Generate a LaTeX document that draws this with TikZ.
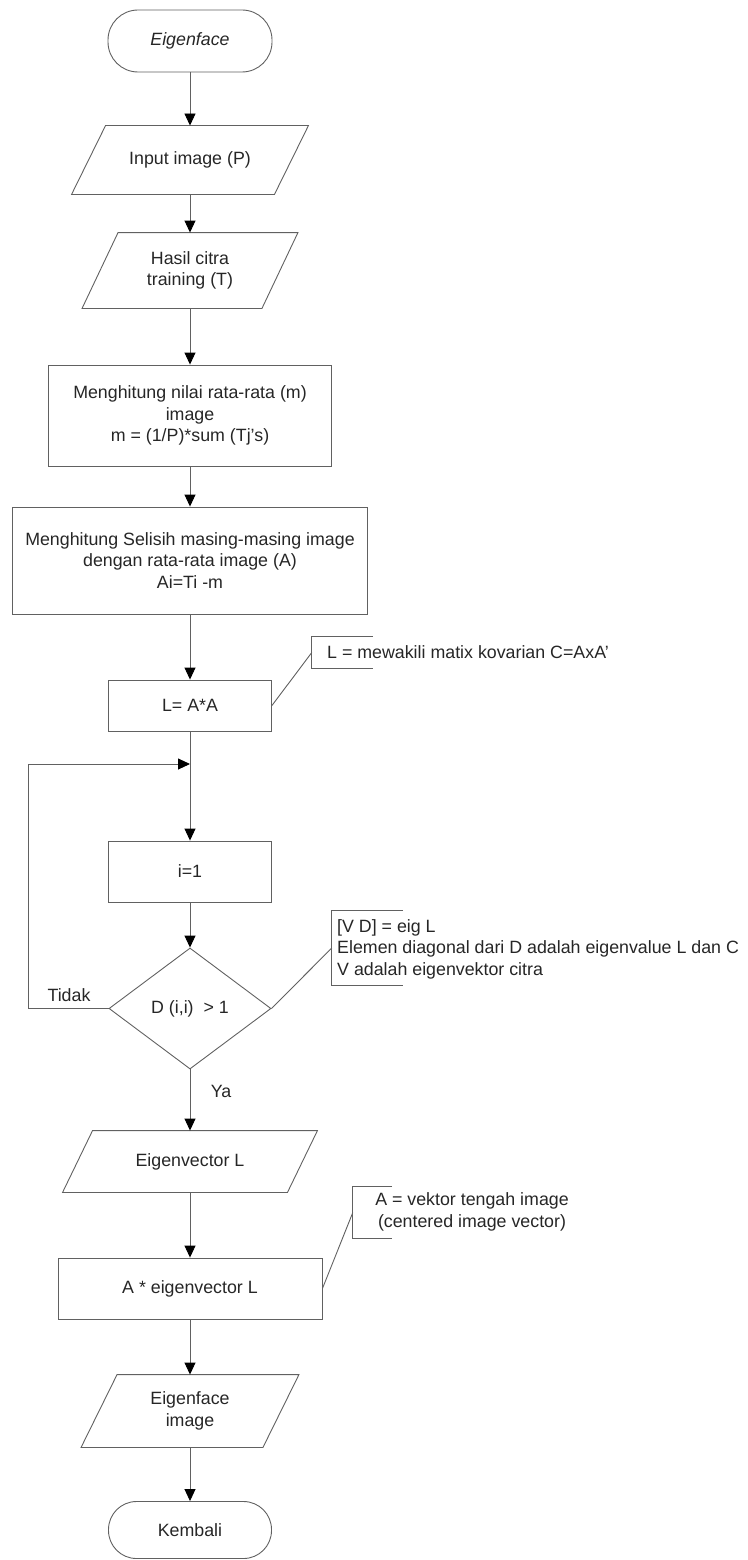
\documentclass[tikz,border=0pt]{standalone}
\usepackage{fontspec}
\setmainfont{Liberation Sans}
\usetikzlibrary{arrows.meta,shapes.geometric}
\newcommand\myfs{\fontsize{17.8}{21.5}\selectfont}
\newcommand\parallelo[2]{\draw[link] ([xshift=#2]#1.north west) -- (#1.north east) -- ([xshift=-#2]#1.south east) -- (#1.south west) -- cycle;}
\tikzset{
  base/.style={draw=black!62, line width=0.9pt, text=black!85, font=\myfs, inner sep=0pt, align=center},
  proc/.style={base, rectangle},
  term/.style={base, rectangle},
  io/.style={base, draw=none, rectangle},
  dec/.style={base, diamond},
  link/.style={draw=black!62, line width=0.9pt},
  flow/.style={link, -{Triangle[width=11pt,length=12pt,color=black]}},
  lbl/.style={text=black!85, font=\myfs, inner sep=0pt},
  annot/.style={draw=none, inner sep=0pt}
}
\begin{document}
\begin{tikzpicture}[x=1pt,y=-1pt]
\useasboundingbox (0,0) rectangle (747,1560);
% main column
\node[term, minimum width=164pt, minimum height=62pt, rounded corners=30pt, font=\myfs\itshape] (start) at (190,41) {Eigenface};
\node[io, minimum width=236pt, minimum height=68pt] (inp) at (190,160) {Input image (P)};
\parallelo{inp}{34pt}
\node[io, minimum width=215pt, minimum height=75pt] (hasil) at (190,270.5) {Hasil citra\\training (T)};
\parallelo{hasil}{36pt}
\node[proc, minimum width=283pt, minimum height=101pt] (mean) at (190,415.5) {Menghitung nilai rata-rata (m)\\image\\m = (1/P)*sum (Tj's)};
\node[proc, minimum width=355pt, minimum height=107pt] (diff) at (190,560.5) {Menghitung Selisih masing-masing image\\dengan rata-rata image (A)\\Ai=Ti -m};
\node[proc, minimum width=163pt, minimum height=51pt] (Lbox) at (190,705.5) {L= A*A};
\node[proc, minimum width=163pt, minimum height=61pt] (init) at (190,871.5) {i=1};
\node[dec, minimum width=162pt, minimum height=121pt] (dec) at (190,1008.5) {D (i,i)\ \ > 1};
\node[io, minimum width=254pt, minimum height=61pt] (evec) at (190,1161.5) {Eigenvector L};
\parallelo{evec}{30pt}
\node[proc, minimum width=264pt, minimum height=61pt] (mult) at (190,1288.5) {A * eigenvector L};
\node[io, minimum width=217pt, minimum height=72pt] (eface) at (190,1411) {Eigenface\\image};
\parallelo{eface}{36pt}
\node[term, minimum width=163pt, minimum height=57pt, rounded corners=28pt] (end) at (190,1530) {Kembali};
% connectors
\draw[flow] (start.south) -- (inp.north);
\draw[flow] (inp.south) -- (hasil.north);
\draw[flow] (hasil.south) -- (mean.north);
\draw[flow] (mean.south) -- (diff.north);
\draw[flow] (diff.south) -- (Lbox.north);
\draw[flow] (Lbox.south) -- (init.north);
\draw[flow] (init.south) -- (dec.north);
\coordinate (j) at (190,764);
\coordinate (lp) at (28,764);
\draw[flow] (dec.west) -| (lp) -- (j);
\node[lbl] (tidak) at (69,995) {Tidak};
\draw[flow] (dec.south) -- (evec.north);
\node[lbl] (ya) at (221,1091) {Ya};
\draw[flow] (evec.south) -- (mult.north);
\draw[flow] (mult.south) -- (eface.north);
\draw[flow] (eface.south) -- (end.north);
% annotations
\node[annot, minimum width=61pt, minimum height=31pt] (n1) at (342.5,652.5) {};
\draw[link] (n1.north east) -- (n1.north west) -- (n1.south west) -- (n1.south east);
\node[lbl, anchor=west] (t1) at (327,652.5) {L = mewakili matix kovarian C=AxA'};
\draw[link] (Lbox.east) -- (n1.west);
\node[annot, minimum width=71pt, minimum height=74pt] (n2) at (367.5,948) {};
\draw[link] (n2.north east) -- (n2.north west) -- (n2.south west) -- (n2.south east);
\node[lbl, anchor=west, align=left] (t2) at (337,949) {[V D] = eig L\\Elemen diagonal dari D adalah eigenvalue L dan C\\V adalah eigenvektor citra};
\draw[link] (dec.east) -- (n2.west);
\node[annot, minimum width=39pt, minimum height=51pt] (n3) at (372.5,1212.5) {};
\draw[link] (n3.north east) -- (n3.north west) -- (n3.south west) -- (n3.south east);
\node[lbl, align=center] (t3) at (472,1212) {A = vektor tengah image\\(centered image vector)};
\draw[link] (mult.east) -- (n3.west);
\end{tikzpicture}
\end{document}
